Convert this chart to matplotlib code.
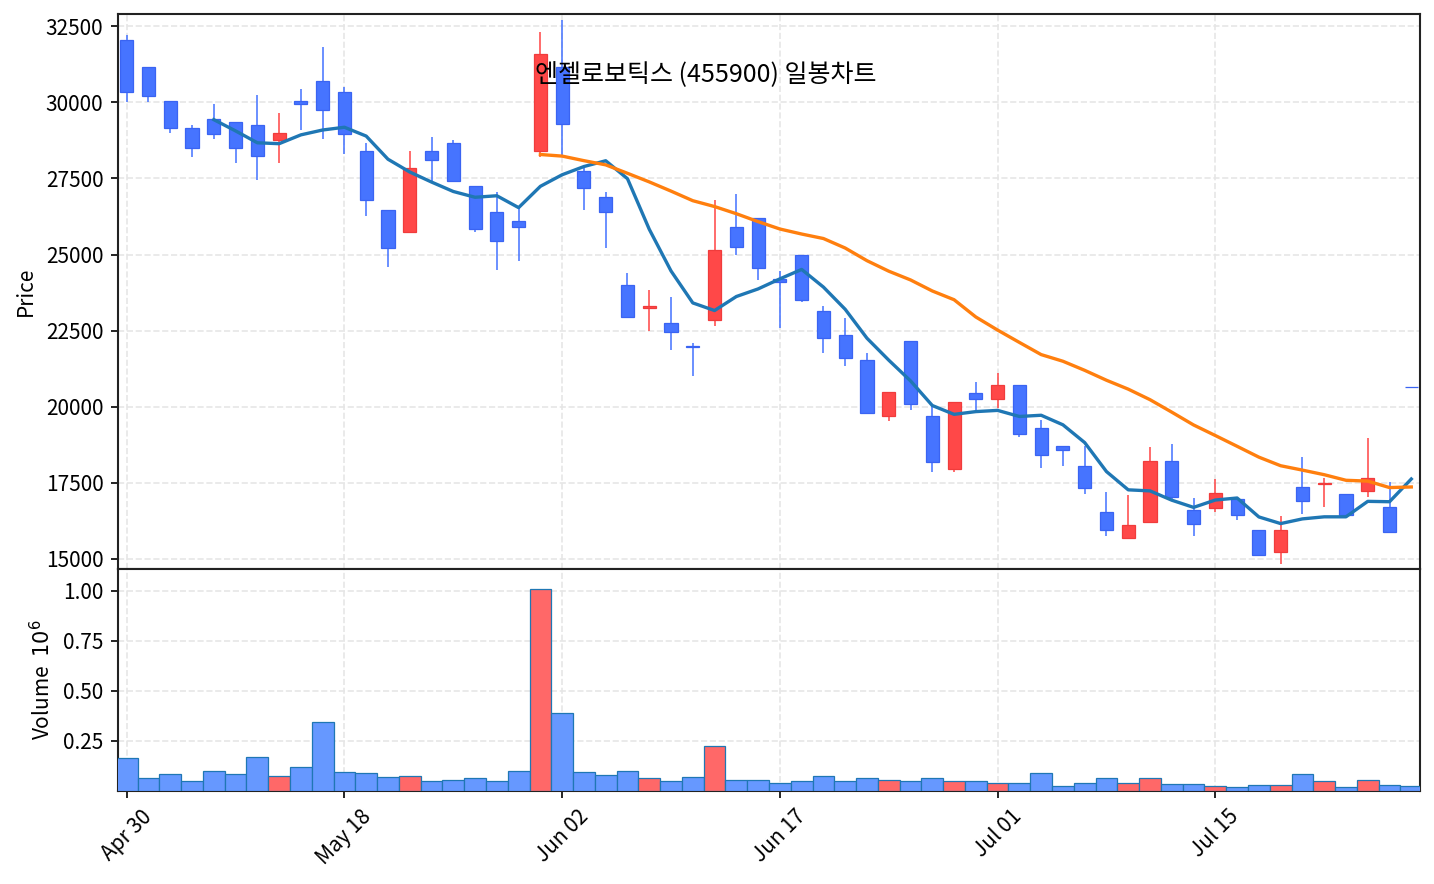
import matplotlib
matplotlib.use("Agg")
import matplotlib.pyplot as plt
import numpy as np
import pandas as pd
from matplotlib.ticker import FuncFormatter, FixedLocator

plt.rcParams['font.family'] = ['Noto Sans CJK KR', 'DejaVu Sans']
plt.rcParams['axes.unicode_minus'] = False

title = "엔젤로보틱스 (455900) 일봉차트"

opens = [32050, 31150, 30050, 29150, 29450, 29350, 29250, 28750, 30050, 30700,
         30350, 28400, 26450, 25750, 28400, 28650, 27250, 26400, 26100, 28400,
         31150, 27750, 26900, 24000, 23250, 22750, 22000, 22850, 25900, 26200,
         24200, 25000, 23150, 22350, 21550, 19680, 22150, 19700, 17950, 20450,
         20250, 20700, 19300, 18720, 18040, 16530, 15680, 16230, 18230, 16600,
         16670, 16960, 15960, 15220, 17350, 17450, 17140, 17220, 16720, 20650]
highs = [32200, 31150, 30050, 29250, 29950, 29350, 30250, 29650, 30450, 31800,
         30500, 28650, 26450, 28400, 28850, 28750, 27250, 27050, 26550, 32300,
         32700, 27850, 27050, 24400, 23850, 23600, 22100, 26800, 27000, 26200,
         24450, 25000, 23300, 22900, 21750, 20500, 22150, 20050, 20150, 20800,
         21100, 20700, 19560, 18720, 18700, 17200, 17100, 18670, 18780, 17000,
         17610, 17000, 15960, 16420, 18340, 17650, 17140, 18980, 17520, 20650]
lows = [30000, 30000, 29000, 28200, 28800, 28000, 27450, 28000, 29100, 28800,
        28300, 26250, 24600, 25750, 27400, 27400, 25750, 24500, 24800, 28200,
        28250, 26450, 25200, 22900, 22500, 21850, 21000, 22650, 25000, 24150,
        22600, 23450, 21750, 21350, 19800, 19530, 19900, 17850, 17850, 19900,
        19950, 19000, 17980, 18040, 17130, 15760, 15680, 16230, 16960, 15740,
        16530, 16270, 15120, 14850, 16490, 16720, 16430, 17020, 15850, 20650]
closes = [30350, 30200, 29150, 28500, 28950, 28500, 28250, 29000, 29950, 29750,
          28950, 26800, 25200, 27850, 28100, 27400, 25850, 25450, 25900, 31600,
          29300, 27200, 26400, 22950, 23300, 22450, 21950, 25150, 25250, 24550,
          24100, 23500, 22250, 21600, 19800, 20500, 20100, 18200, 20150, 20250,
          20700, 19100, 18400, 18580, 17330, 15940, 16100, 18230, 17050, 16150,
          17150, 16430, 15120, 15960, 16920, 17490, 16430, 17660, 15900, 20650]
volumes = [167000, 62500, 87000, 48000, 102000, 87000, 172000, 77000, 122000, 346000,
           97000, 92000, 72000, 77000, 52000, 57000, 67000, 52000, 102000, 1008000,
           391000, 97000, 82000, 102000, 67000, 52000, 72000, 227000, 56000, 56000,
           42000, 52000, 77000, 48000, 62500, 56000, 48000, 67000, 48000, 48000,
           41000, 38000, 92000, 23000, 42000, 62500, 42000, 67000, 33000, 33000,
           23000, 18000, 28000, 28000, 87000, 48000, 18000, 57000, 28000, 23000]
tick_labels = ["Apr 30", "May 18", "Jun 02", "Jun 17", "Jul 01", "Jul 15"]

df = pd.DataFrame({"Open": opens, "High": highs, "Low": lows, "Close": closes, "Volume": volumes})
df["MA5"] = df["Close"].rolling(5).mean()
df["MA20"] = df["Close"].rolling(20).mean()
x = np.arange(len(df))
up = df["Close"].values > df["Open"].values

c_up, c_up_edge = "#ff4848", "#f03c3c"
c_dn, c_dn_edge = "#4674ff", "#3a64f2"
v_up, v_dn = "#ff6868", "#6698ff"

W, H = 1434, 884
fig = plt.figure(figsize=(W / 150, H / 150), dpi=150)
L, R = 118 / W, 1420 / W
ax = fig.add_axes([L, (H - 569) / H, R - L, 555 / H])
axv = fig.add_axes([L, (H - 791) / H, R - L, 222 / H], sharex=ax)

grid_kw = dict(color="#e6e6e6", linestyle="--", linewidth=0.8)

# candles
wick_colors = [c_up if u else c_dn for u in up]
ax.vlines(x, df["Low"], df["High"], colors=wick_colors, linewidth=0.75, zorder=3)
body_bottom = np.minimum(df["Open"], df["Close"])
body_h = np.abs(df["Close"] - df["Open"])
ax.bar(x, body_h, bottom=body_bottom, width=0.6,
       color=[c_up if u else c_dn for u in up],
       edgecolor=[c_up_edge if u else c_dn_edge for u in up],
       linewidth=0.6, zorder=4)
ax.plot(x, df["MA5"], color="#1f77b4", linewidth=1.6, zorder=5)
ax.plot(x, df["MA20"], color="#ff7f0e", linewidth=1.6, zorder=5)

ax.set_ylim(14670, 32900)
ax.set_yticks(np.arange(15000, 32501, 2500))
ax.set_ylabel("Price", fontsize=10)
ax.grid(True, **grid_kw)
ax.set_axisbelow(True)
ax.tick_params(axis="x", labelbottom=False)
ax.tick_params(labelsize=10)

# volume
axv.bar(x, df["Volume"], width=1.0,
        color=[v_up if u else v_dn for u in up],
        edgecolor="#1f77b4", linewidth=0.6, zorder=3)
axv.set_ylim(0, df["Volume"].max() * 1.1)
axv.yaxis.set_major_locator(FixedLocator([250000, 500000, 750000, 1000000]))
axv.yaxis.set_major_formatter(FuncFormatter(lambda v, p: f"{v/1e6:.2f}"))
axv.set_ylabel("Volume  $10^{6}$", fontsize=10)
axv.grid(True, **grid_kw)
axv.set_axisbelow(True)
axv.tick_params(labelsize=10)

ticks = list(range(0, len(df), 10))[:len(tick_labels)]
axv.set_xticks(ticks)
axv.set_xticklabels(tick_labels, rotation=45)
axv.set_xlim(-0.4, 59.4)

for a in (ax, axv):
    for s in a.spines.values():
        s.set_linewidth(1.0)
        s.set_color("#222222")

fig.text(706 / W, 1 - 75 / H, title, ha="center", va="center", fontsize=12)

fig.savefig("out.png", dpi=150)
